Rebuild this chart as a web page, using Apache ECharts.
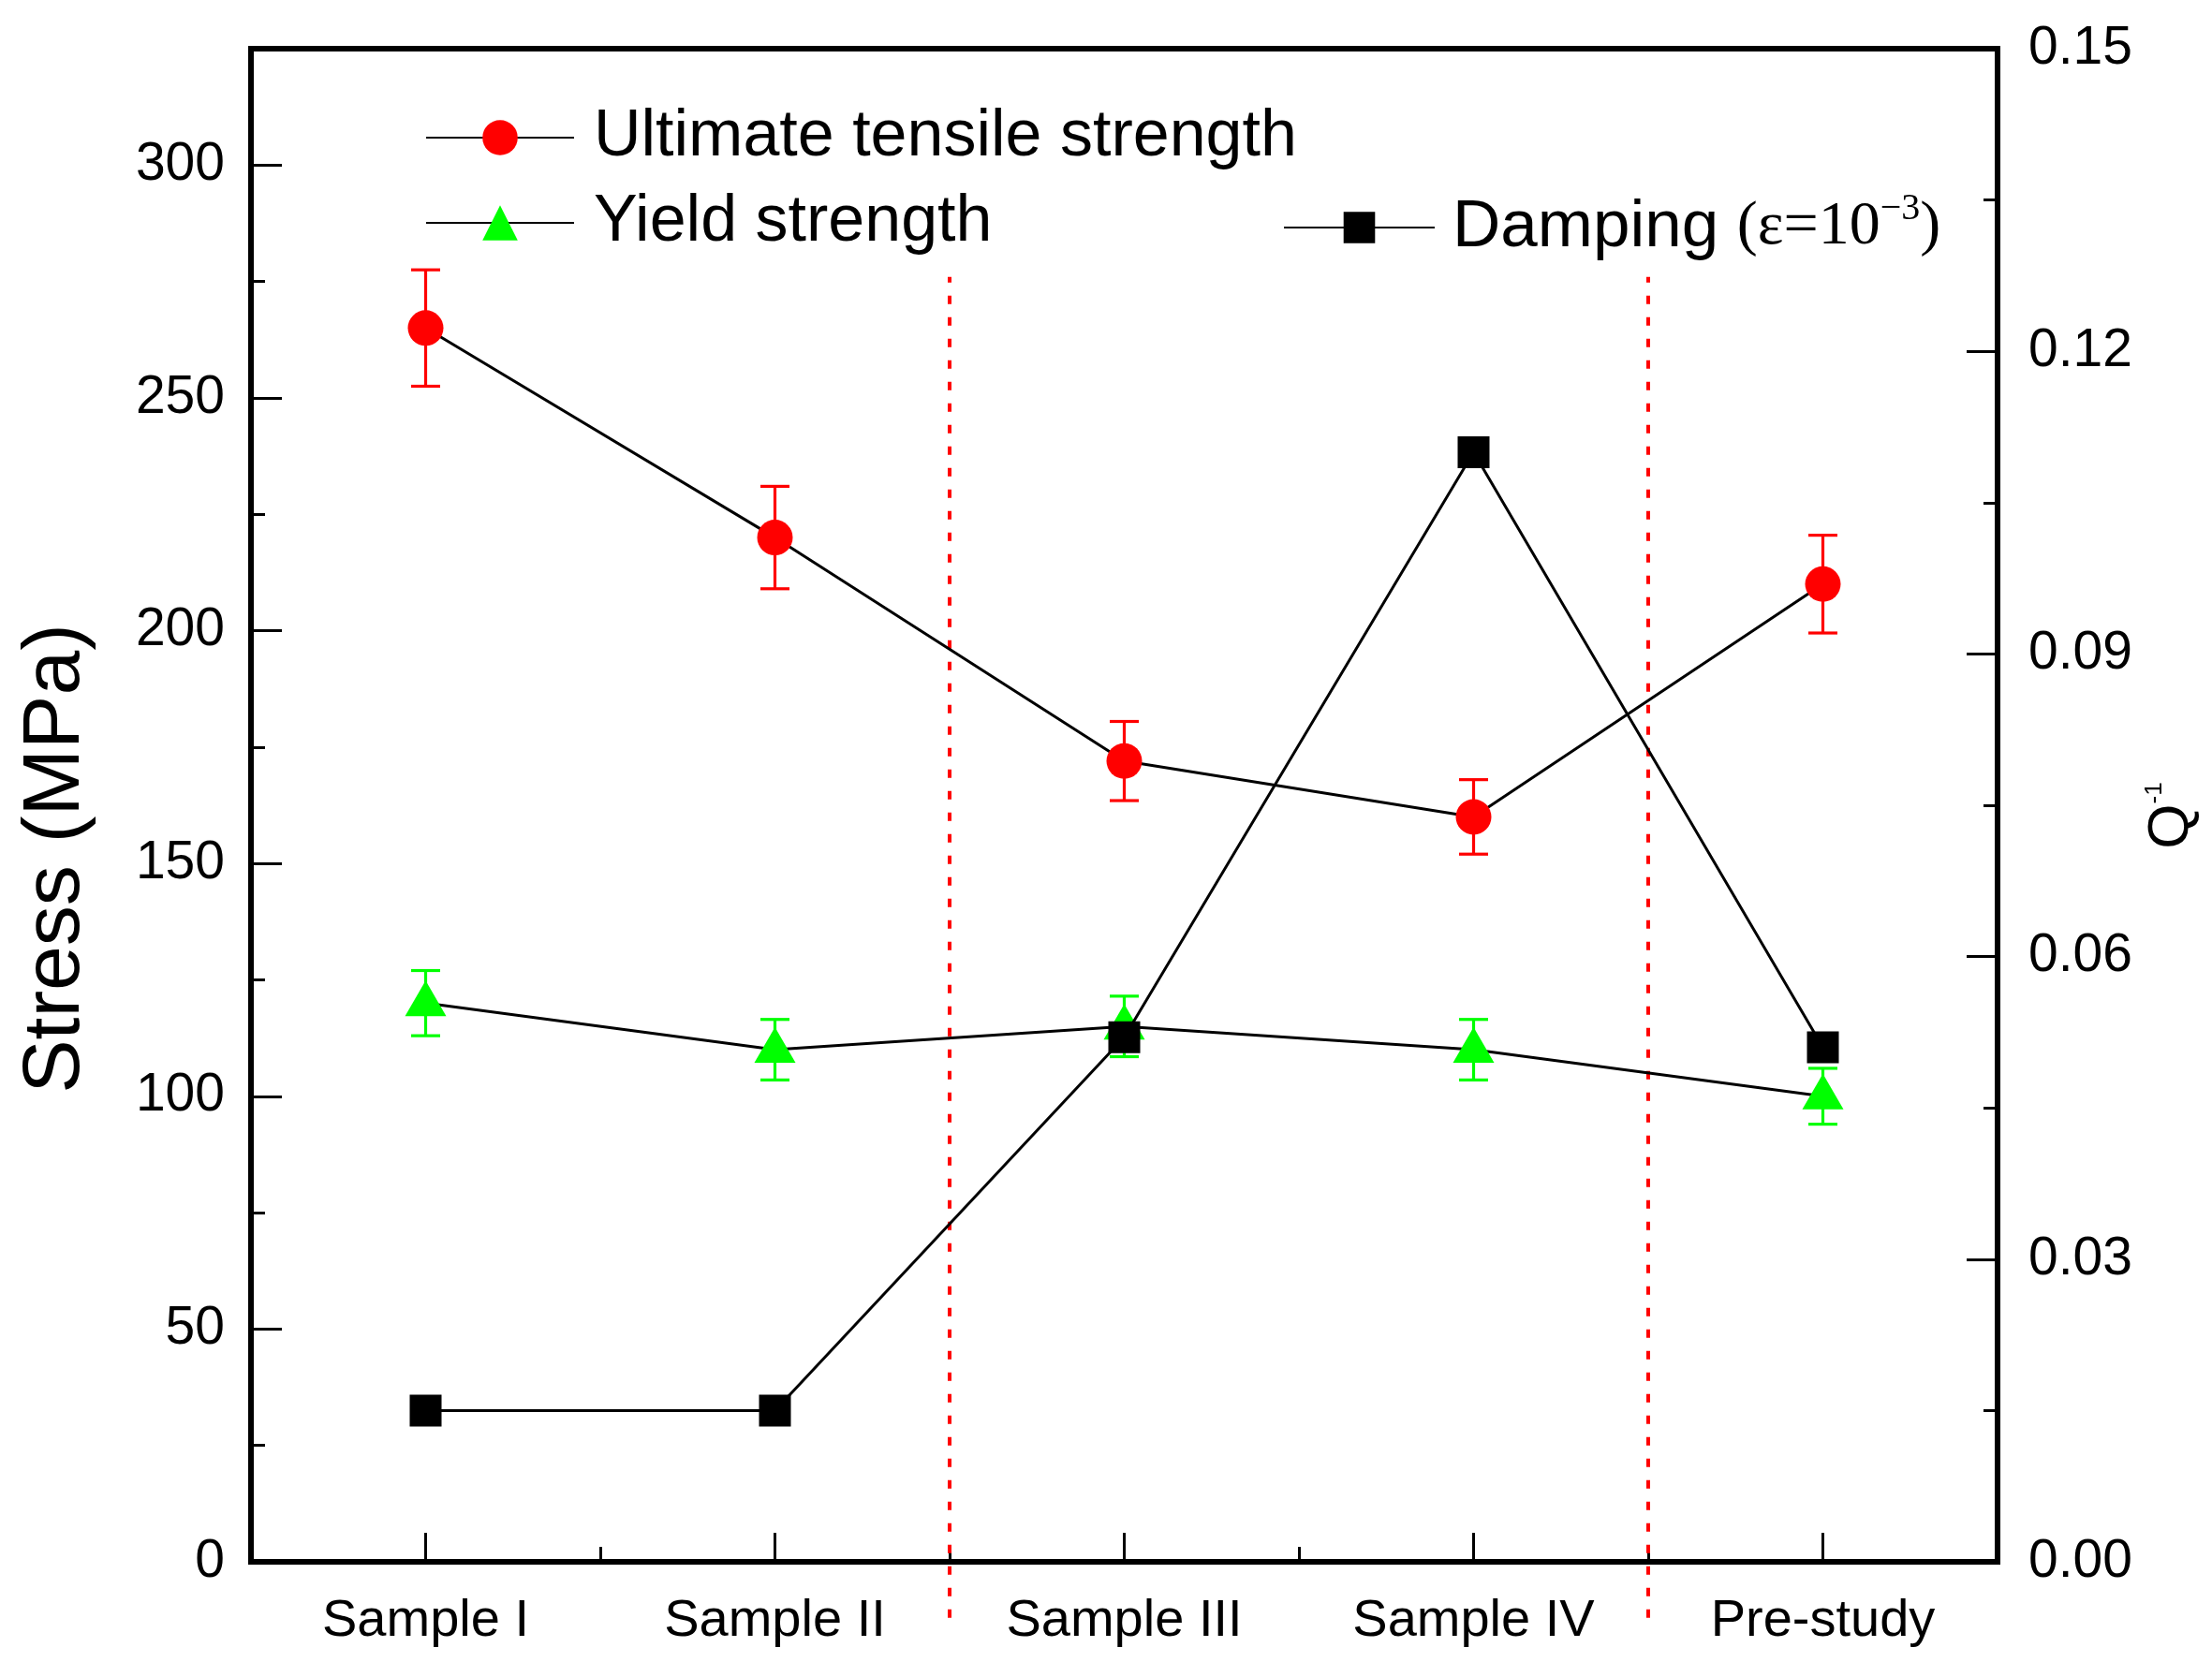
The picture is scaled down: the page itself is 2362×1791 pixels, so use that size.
<!DOCTYPE html>
<html><head><meta charset="utf-8">
<script src="https://cdn.jsdelivr.net/npm/echarts@6/dist/echarts.min.js"></script>
<style>html,body{margin:0;padding:0;background:#fff}#c{width:2362px;height:1791px}</style>
</head><body><div id="c"></div>
<script>
const categories = ['Sample I', 'Sample II', 'Sample III', 'Sample IV', 'Pre-study'];
const utsValues = [265, 220, 172, 160, 210];
const utsErrors = [12.5, 11, 8.5, 8, 10.5];
const yieldValues = [120, 110, 115, 110, 100];
const yieldErrors = [7, 6.5, 6.5, 6.5, 6];
const dampingValues = [0.015, 0.015, 0.052, 0.110, 0.051];
const stressMajorTicks = [0, 50, 100, 150, 200, 250, 300];
const stressMinorTicks = [25, 75, 125, 175, 225, 275];
const categoryCentres = [0.5, 1.5, 2.5, 3.5, 4.5];
const dividerBoundaries = [2, 4];
const dividerRange = [-12, 276];

const UTS = 'Ultimate tensile strength';
const YS = 'Yield strength';
const DMP = 'Damping (ε=10−3)';
const FONT = 'Liberation Sans';

function errorBarRender(color) {
  return function (params, api) {
    const x = api.value(0), lo = api.value(1), hi = api.value(2);
    const pLo = api.coord([x, lo]), pHi = api.coord([x, hi]);
    const half = 15.5;
    const style = { stroke: color, lineWidth: 3.2, fill: null };
    return { type: 'group', children: [
      { type: 'line', shape: { x1: pLo[0], y1: pLo[1], x2: pHi[0], y2: pHi[1] }, style: style },
      { type: 'line', shape: { x1: pLo[0] - half, y1: pLo[1], x2: pLo[0] + half, y2: pLo[1] }, style: style },
      { type: 'line', shape: { x1: pHi[0] - half, y1: pHi[1], x2: pHi[0] + half, y2: pHi[1] }, style: style }
    ]};
  };
}
function dividerRender(params, api) {
  const a = api.coord([api.value(0), api.value(1)]);
  const b = api.coord([api.value(0), api.value(2)]);
  return { type: 'line', shape: { x1: a[0], y1: a[1], x2: b[0], y2: b[1] },
    style: { stroke: '#ff0000', lineWidth: 4, lineDash: [9, 14], fill: null } };
}

const legendText = { fontSize: 70, fontFamily: FONT, color: '#000', lineHeight: 80 };
const tickLine = { color: '#000', width: 3 };

const chart = echarts.init(document.getElementById('c'));
chart.setOption({
  animation: false,
  backgroundColor: '#fff',
  grid: { left: 268, right: 229, top: 52, bottom: 123, show: true, borderColor: '#000', borderWidth: 6 },
  legend: [
    { data: [UTS], left: 454, top: 107, padding: 0, itemWidth: 158, itemHeight: 47, selectedMode: false,
      textStyle: Object.assign({ padding: [0, 0, 0, 16] }, legendText) },
    { data: [YS], left: 454, top: 198, padding: 0, itemWidth: 158, itemHeight: 47, selectedMode: false,
      textStyle: Object.assign({ padding: [0, 0, 0, 16] }, legendText) },
    { data: [DMP], left: 1370, top: 203, padding: 0, itemWidth: 161, itemHeight: 42, selectedMode: false,
      formatter: function () { return '{a|Damping }{b|(ε=10}{s|−3}{b|)}'; },
      textStyle: { color: '#000', padding: [0, 0, 0, 14], rich: {
        a: { fontSize: 71, fontFamily: FONT, color: '#000', lineHeight: 80 },
        b: { fontSize: 66, fontFamily: 'Liberation Serif', color: '#000', lineHeight: 80 },
        s: { fontSize: 40, fontFamily: 'Liberation Serif', color: '#000', verticalAlign: 'top', lineHeight: 40 }
      } } }
  ],
  xAxis: [
    { type: 'category', data: categories, position: 'bottom', boundaryGap: true, offset: 0,
      axisLine: { onZero: false, lineStyle: { color: '#000', width: 6 } },
      axisTick: { show: false },
      axisLabel: { color: '#000', fontSize: 56, fontFamily: FONT, margin: 36, interval: 0 },
      splitLine: { show: false } },
    { type: 'value', min: 0, max: 5, interval: 1, position: 'bottom', offset: 0,
      axisLine: { show: false, onZero: false },
      axisTick: { show: true, inside: true, length: 16, lineStyle: tickLine },
      axisLabel: { show: false }, splitLine: { show: false } },
    { type: 'value', min: 0, max: 5, position: 'bottom', offset: 0,
      axisLine: { show: false, onZero: false },
      axisTick: { show: true, inside: true, length: 31, customValues: categoryCentres, lineStyle: tickLine },
      axisLabel: { show: false, customValues: categoryCentres }, splitLine: { show: false } }
  ],
  yAxis: [
    { type: 'value', min: 0, max: 325, position: 'left', offset: 0,
      name: 'Stress (MPa)', nameLocation: 'middle', nameRotate: 90, nameGap: 165,
      nameTextStyle: { fontSize: 86, fontFamily: FONT, color: '#000', padding: [0, 114, 0, 0] },
      axisLine: { show: true, onZero: false, lineStyle: { color: '#000', width: 6 } },
      axisTick: { show: true, inside: true, length: 33, customValues: stressMajorTicks, lineStyle: tickLine },
      axisLabel: { customValues: stressMajorTicks, color: '#000', fontSize: 57, fontFamily: FONT, margin: 28 },
      splitLine: { show: false } },
    { type: 'value', min: 0, max: 0.15, interval: 0.03, position: 'right', offset: 0,
      name: '{q|Q}{s|-1}', nameLocation: 'middle', nameRotate: 90, nameGap: 148,
      nameTextStyle: { color: '#000', padding: [0, 22, 0, 0], rich: {
        q: { fontSize: 62, fontFamily: FONT, color: '#000' },
        s: { fontSize: 26, fontFamily: FONT, color: '#000', verticalAlign: 'top' } } },
      axisLine: { show: true, onZero: false, lineStyle: { color: '#000', width: 6 } },
      axisTick: { show: true, inside: true, length: 33, lineStyle: tickLine },
      minorTick: { show: true, splitNumber: 2, length: 15, lineStyle: tickLine },
      axisLabel: { color: '#000', fontSize: 57, fontFamily: FONT, margin: 33, formatter: function (v) { return v.toFixed(2); } },
      splitLine: { show: false }, minorSplitLine: { show: false } },
    { type: 'value', min: 0, max: 325, position: 'left', offset: 0,
      axisLine: { show: false, onZero: false },
      axisTick: { show: true, inside: true, length: 15, customValues: stressMinorTicks, lineStyle: tickLine },
      axisLabel: { show: false, customValues: stressMinorTicks }, splitLine: { show: false } }
  ],
  series: [
    { type: 'custom', name: 'dividers', xAxisIndex: 1, yAxisIndex: 0, clip: false, silent: true,
      data: dividerBoundaries.map(function (b) { return [b, dividerRange[0], dividerRange[1]]; }),
      renderItem: dividerRender, z: 1 },
    { type: 'custom', name: 'utsErr', xAxisIndex: 0, yAxisIndex: 0, silent: true,
      data: categories.map(function (c, i) { return [i, utsValues[i] - utsErrors[i], utsValues[i] + utsErrors[i]]; }),
      encode: { x: 0, y: [1, 2] }, renderItem: errorBarRender('#ff0000'), z: 2 },
    { type: 'custom', name: 'ysErr', xAxisIndex: 0, yAxisIndex: 0, silent: true,
      data: categories.map(function (c, i) { return [i, yieldValues[i] - yieldErrors[i], yieldValues[i] + yieldErrors[i]]; }),
      encode: { x: 0, y: [1, 2] }, renderItem: errorBarRender('#00ff00'), z: 2 },
    { name: UTS, type: 'line', data: utsValues, xAxisIndex: 0, yAxisIndex: 0,
      symbol: 'circle', symbolSize: 38, itemStyle: { color: '#ff0000' },
      lineStyle: { color: '#000', width: 3 }, emphasis: { disabled: true }, z: 3 },
    { name: YS, type: 'line', data: yieldValues, xAxisIndex: 0, yAxisIndex: 0,
      symbol: 'triangle', symbolSize: [44, 38], symbolOffset: [0, -5], itemStyle: { color: '#00ff00' },
      lineStyle: { color: '#000', width: 3 }, emphasis: { disabled: true }, z: 3 },
    { name: DMP, type: 'line', data: dampingValues, xAxisIndex: 0, yAxisIndex: 1,
      symbol: 'rect', symbolSize: 34, itemStyle: { color: '#000' },
      lineStyle: { color: '#000', width: 3 }, emphasis: { disabled: true }, z: 4 }
  ]
});
</script>
</body></html>
